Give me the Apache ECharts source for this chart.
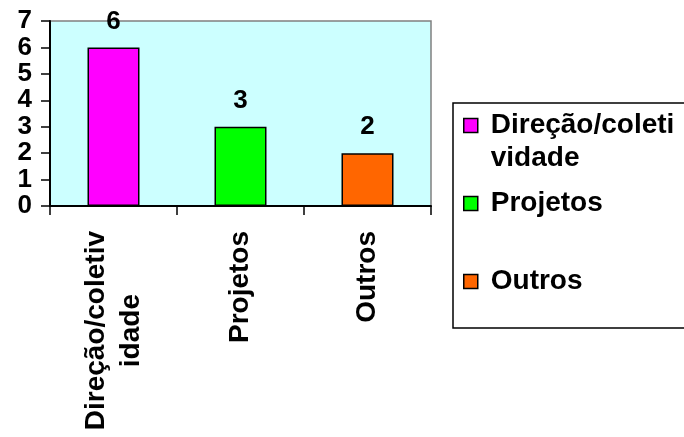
<!DOCTYPE html>
<html><head><meta charset="utf-8">
<script src="https://cdn.jsdelivr.net/npm/echarts@6/dist/echarts.min.js"></script>
<style>html,body{margin:0;padding:0;background:#fff}#c{width:684px;height:437px}</style>
</head><body><div id="c"></div>
<script>
const categories = ['Direção/coletividade', 'Projetos', 'Outros'];
const axisLabels = ['Direção/coletiv\nidade', 'Projetos', 'Outros'];
const legendLabels = ['Direção/coleti\nvidade', 'Projetos', 'Outros'];
const values = [6, 3, 2];
const yMin = 0, yMax = 7, yStep = 1;
const colors = ['#FF00FF', '#00FF00', '#FF6600'];
const FONT = '"Liberation Sans", Arial, sans-serif';

const series = categories.map((name, i) => ({
  name: name,
  type: 'bar',
  stack: 's',
  barWidth: 52,
  data: categories.map((c, j) => (j === i ? values[i] : '-')),
  itemStyle: { color: colors[i], borderColor: '#000', borderWidth: 1.5 },
  label: { show: true, position: 'top', distance: 13, color: '#000', fontFamily: FONT, fontWeight: 'bold', fontSize: 26 },
  emphasis: { disabled: true }
}));

const chart = echarts.init(document.getElementById('c'), null, { renderer: 'canvas' });
chart.setOption({
  animation: false,
  backgroundColor: '#fff',
  grid: { left: 50, right: 253, top: 21, bottom: 231, containLabel: false, outerBoundsMode: 'none', show: true, backgroundColor: '#CCFFFF', borderColor: '#808080', borderWidth: 1.5 },
  xAxis: {
    type: 'category',
    data: categories,
    boundaryGap: true,
    axisLine: { show: true, lineStyle: { color: '#000', width: 2 } },
    axisTick: { show: true, alignWithLabel: false, length: 9, lineStyle: { color: '#000', width: 1.5 } },
    axisLabel: {
      rotate: 90, margin: 25, interval: 0,
      formatter: (v, i) => axisLabels[i].split('\n').map(s => '{a|' + s + '}').join('\n'),
      rich: { a: { align: 'center', fontFamily: FONT, fontWeight: 'bold', fontSize: 28, lineHeight: 35, color: '#000' } }
    }
  },
  yAxis: {
    type: 'value', min: yMin, max: yMax, interval: yStep,
    axisLine: { show: true, lineStyle: { color: '#000', width: 2 } },
    axisTick: { show: true, length: 9, lineStyle: { color: '#000', width: 1.5 } },
    splitLine: { show: false },
    axisLabel: { margin: 18, fontFamily: FONT, fontWeight: 'bold', fontSize: 26, color: '#000' }
  },
  legend: {
    orient: 'vertical', left: 463, top: 76, padding: 0,
    itemWidth: 14, itemHeight: 14, itemGap: -21, icon: 'rect',
    selectedMode: false,
    itemStyle: { borderColor: '#000', borderWidth: 1.5 },
    textStyle: { fontFamily: FONT, fontWeight: 'bold', fontSize: 28, lineHeight: 33, color: '#000', padding: [0, 0, 0, 8] },
    data: categories,
    formatter: name => {
      const t = legendLabels[categories.indexOf(name)];
      return ' \n' + t + (t.indexOf('\n') >= 0 ? '' : '\n ');
    }
  },
  graphic: [{
    type: 'rect', silent: true,
    shape: { x: 453, y: 103, width: 260, height: 225 },
    style: { fill: 'none', stroke: '#000', lineWidth: 1.5 }
  }],
  series: series
});
</script></body></html>
